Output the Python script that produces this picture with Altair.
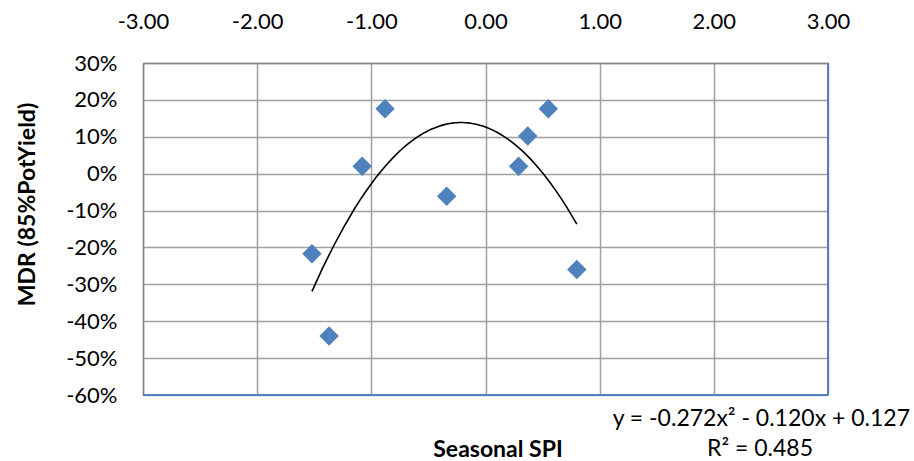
import altair as alt
import pandas as pd

# Data
spi = [-1.52, -1.37, -1.08, -0.88, -0.34, 0.29, 0.37, 0.55, 0.80]
mdr = [-0.217, -0.44, 0.02, 0.176, -0.061, 0.02, 0.102, 0.176, -0.26]
x_ticks = [-3, -2, -1, 0, 1, 2, 3]
y_ticks = [0.3, 0.2, 0.1, 0.0, -0.1, -0.2, -0.3, -0.4, -0.5, -0.6]
eq_text = ["y = -0.272x² - 0.120x + 0.127"]
r2_text = ["R² = 0.485"]

df = pd.DataFrame({"spi": spi, "mdr": mdr})

FONT = "Lato"
FS = 22
TFS = 23
W, H = 685, 332
BLUE = "#4F81BD"

xscale = alt.Scale(domain=[-3, 3], nice=False, zero=False)
yscale = alt.Scale(domain=[-0.6, 0.3], nice=False, zero=False)

xaxis = alt.Axis(
    orient="top", values=x_ticks, tickCount=10, title="Seasonal SPI",
    labelExpr="replace(format(datum.value, '.2f'), '\u2212', '-')",
    ticks=False, tickSize=0, labelPadding=30, labelFont=FONT, labelFontSize=FS,
    labelColor="#000000", domainColor="#868686", domainWidth=1.5,
    grid=True, gridColor="#A0A0A0", gridWidth=1.5,
    titleFont=FONT, titleFontSize=TFS, titleFontWeight="bold", titleColor="#000000",
    titleX=W / 2 + 12, titleY=386, titleAlign="center", titleBaseline="middle",
    labelFlush=False, labelOverlap=False,
)
yaxis = alt.Axis(
    values=y_ticks, tickCount=12, title="MDR (85%PotYield)",
    labelExpr="replace(format(datum.value, '.0%'), '\u2212', '-')",
    ticks=False, tickSize=0, labelPadding=26, labelFont=FONT, labelFontSize=FS,
    labelColor="#000000", domainColor="#868686", domainWidth=1.5,
    grid=True, gridColor="#A0A0A0", gridWidth=1.5,
    titleFont=FONT, titleFontSize=TFS, titleFontWeight="bold", titleColor="#000000",
    titleAngle=270, titleX=-116, titleY=141, titleAlign="center", titleBaseline="middle",
    labelFlush=False, labelOverlap=False,
)

base = alt.Chart(df)

points = base.mark_point(
    shape="diamond", filled=True, size=380, color=BLUE, opacity=1
).encode(
    x=alt.X("spi:Q", scale=xscale, axis=xaxis),
    y=alt.Y("mdr:Q", scale=yscale, axis=yaxis),
)

trend = base.transform_regression(
    "spi", "mdr", method="poly", order=2
).mark_line(color="#000000", strokeWidth=1.6).encode(
    x=alt.X("spi:Q", scale=xscale),
    y=alt.Y("mdr:Q", scale=yscale),
)

one = pd.DataFrame({"k": [0]})
bottom_line = alt.Chart(one).mark_rule(color=BLUE, strokeWidth=2).encode(
    x=alt.value(0), x2=alt.value(W), y=alt.value(H)
)
right_line = alt.Chart(one).mark_rule(color=BLUE, strokeWidth=2).encode(
    x=alt.value(W), y=alt.value(0), y2=alt.value(H)
)

eq = alt.Chart(pd.DataFrame({"t": eq_text})).mark_text(
    font=FONT, fontSize=TFS, align="right", baseline="middle", color="#000000"
).encode(text="t:N", x=alt.value(767), y=alt.value(356))

r2 = alt.Chart(pd.DataFrame({"t": r2_text})).mark_text(
    font=FONT, fontSize=TFS, align="center", baseline="middle", color="#000000"
).encode(text="t:N", x=alt.value(617), y=alt.value(386))

chart = alt.layer(points, trend, bottom_line, right_line, eq, r2).properties(
    width=W, height=H,
    autosize=alt.AutoSizeParams(type="none"),
    padding={"left": 143, "top": 63, "right": 86, "bottom": 66},
    background="#FFFFFF",
).configure_view(stroke=None)

chart.save("out.html", embed_options={"renderer": "svg", "actions": False})
